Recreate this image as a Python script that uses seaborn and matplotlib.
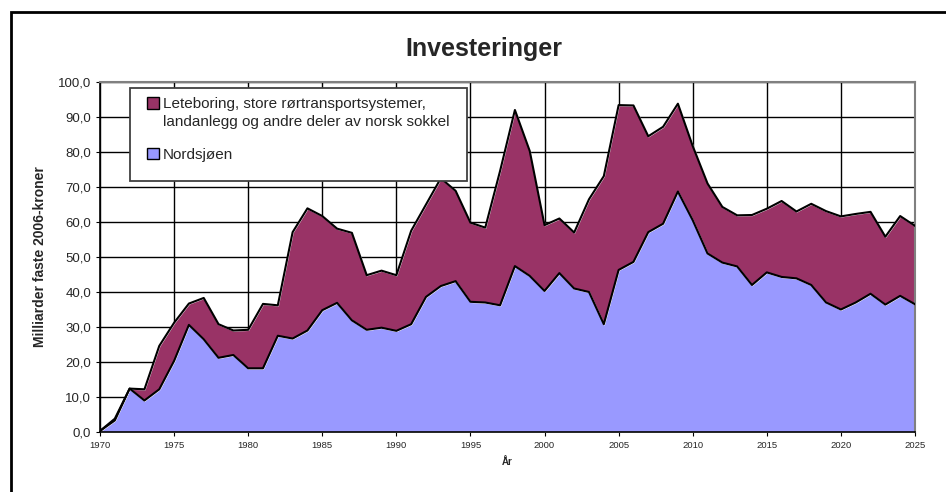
import numpy as np
import pandas as pd
import seaborn as sns
import matplotlib.pyplot as plt
from matplotlib.patches import Rectangle, Patch
from matplotlib.ticker import FuncFormatter

# Data (billion NOK, fixed 2006 prices)
years = list(range(1970, 2026))
nordsjoen = [0.3, 3.3, 12.4, 9.0, 12.2, 20.3, 30.6, 26.5, 21.2, 22.0,
             18.2, 18.2, 27.5, 26.7, 29.0, 34.8, 36.9, 31.9, 29.2, 29.8,
             28.9, 30.8, 38.6, 41.7, 43.1, 37.2, 37.0, 36.2, 47.4, 44.6,
             40.3, 45.4, 41.0, 40.0, 30.8, 46.3, 48.6, 57.1, 59.5, 68.7,
             60.5, 51.0, 48.4, 47.3, 42.0, 45.6, 44.3, 43.9, 42.0, 37.0,
             35.0, 37.0, 39.5, 36.4, 38.9, 36.5]
total = [0.3, 3.8, 12.4, 12.2, 24.6, 31.2, 36.7, 38.3, 30.8, 29.0,
         29.2, 36.6, 36.2, 57.1, 63.9, 61.7, 58.1, 56.9, 44.8, 46.1,
         44.8, 57.5, 65.0, 72.5, 68.9, 59.8, 58.4, 74.6, 92.0, 80.3,
         59.1, 61.0, 57.0, 66.5, 73.1, 93.4, 93.3, 84.5, 87.2, 93.8,
         81.7, 71.0, 64.3, 61.9, 62.0, 63.8, 66.0, 63.0, 65.2, 63.1,
         61.6, 62.3, 62.9, 55.8, 61.7, 58.9]
leteboring = [t - n for t, n in zip(total, nordsjoen)]

df = pd.DataFrame({"År": years, "Nordsjøen": nordsjoen, "Totalt": total})

sns.set_style("white")
plt.rcParams['font.family'] = ['Liberation Sans', 'DejaVu Sans']

fig = plt.figure(figsize=(9.46, 4.92), dpi=100)
ax = fig.add_axes([100 / 946, 60 / 492, 815 / 946, 350 / 492])

c_nord = "#9999FF"
c_lete = "#993366"
ax.stackplot(df["År"], nordsjoen, leteboring, colors=[c_nord, c_lete], zorder=2)

# outlines of the stacked areas
sns.lineplot(data=df, x="År", y="Nordsjøen", color="black", lw=1.5, ax=ax, zorder=3)
sns.lineplot(data=df, x="År", y="Totalt", color="black", lw=1.5, ax=ax, zorder=3)

ax.set_xlim(1970, 2025)
ax.set_ylim(0, 100)
ax.set_xticks(range(1970, 2026, 5))
ax.set_yticks(np.arange(0, 101, 10))
ax.yaxis.set_major_formatter(FuncFormatter(lambda v, p: f"{v:.1f}".replace(".", ",")))
ax.grid(True, color="black", lw=1.0, zorder=1)
ax.set_axisbelow(True)
ax.tick_params(axis="x", labelsize=6.8, length=3, direction="out", color="black", bottom=True)
ax.tick_params(axis="y", labelsize=9.5, length=3, direction="out", color="black", left=True)

for side in ["top", "right"]:
    ax.spines[side].set_color("#808080")
    ax.spines[side].set_linewidth(1.5)
for side in ["left", "bottom"]:
    ax.spines[side].set_color("black")
    ax.spines[side].set_linewidth(1.2)

ax.set_xlabel("År", fontsize=7, fontweight="bold", labelpad=5)
ax.set_ylabel("Milliarder faste 2006-kroner", fontsize=10, fontweight="bold", labelpad=8)
fig.text(484 / 946, 1 - 49 / 492, "Investeringer", fontsize=18, fontweight="bold",
         ha="center", va="center")

# legend frame (drawn separately so it can keep the wide right margin)
ax.add_patch(Rectangle((30 / 815, 251 / 350), 337 / 815, 93 / 350, transform=ax.transAxes,
                       facecolor="white", edgecolor="#404040", lw=1.3, zorder=4))

blank = Patch(facecolor="none", edgecolor="none")
handles = [Patch(facecolor=c_lete, edgecolor="black", lw=1), blank, blank,
           Patch(facecolor=c_nord, edgecolor="black", lw=1)]
labels = ["Leteboring, store rørtransportsystemer,",
          "landanlegg og andre deler av norsk sokkel", " ", "Nordsjøen"]
leg = ax.legend(handles, labels, loc="upper left", bbox_to_anchor=(47 / 815, 1 - 15 / 350),
                fontsize=11, frameon=False, handlelength=0.8, handleheight=0.8,
                handletextpad=0.25, borderpad=0, labelspacing=0.22, borderaxespad=0)
leg.get_texts()[2].set_fontsize(3.5)
leg.set_zorder(5)

# outer chart border
fig.patches.append(Rectangle((11 / 946, -0.1), 1.2, 1 - 12 / 492 + 0.1,
                             transform=fig.transFigure, fill=False,
                             edgecolor="black", lw=2.0))

fig.savefig("out.png", dpi=100)
